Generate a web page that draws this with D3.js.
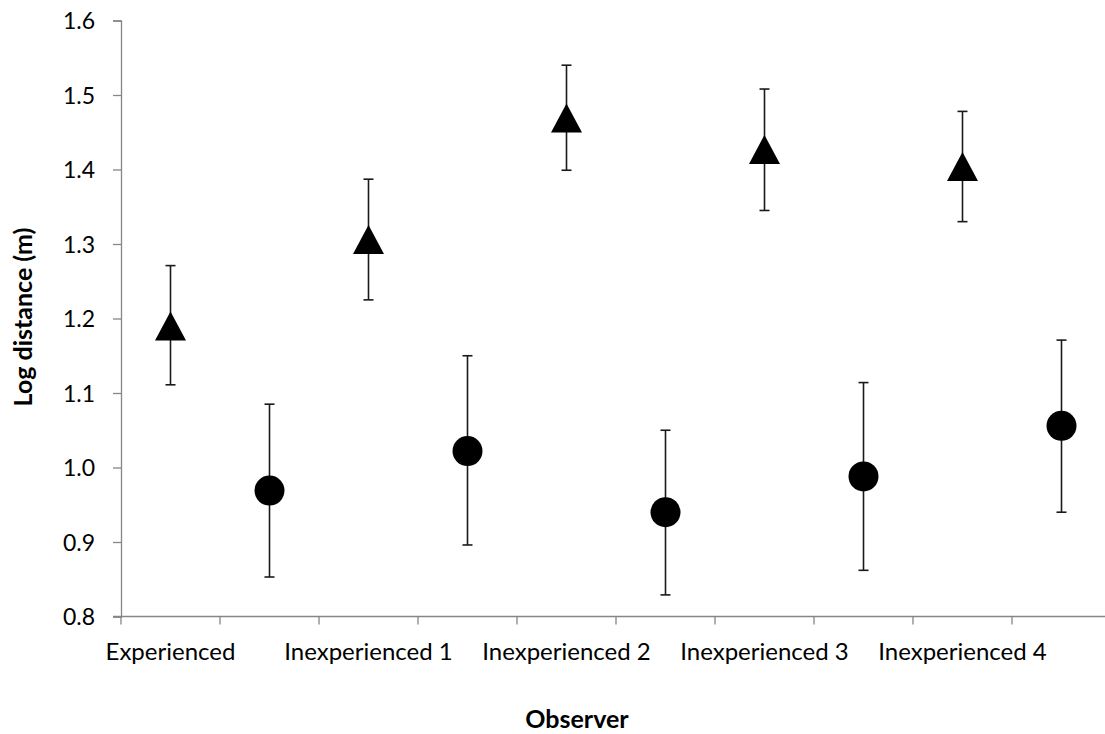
<!DOCTYPE html>
<html>
<head>
<meta charset="utf-8">
<script src="https://cdn.jsdelivr.net/npm/d3@7"></script>
<style>
  html, body { margin: 0; padding: 0; background: #fff; }
  svg { display: block; }
  text { font-family: Lato, "Open Sans", sans-serif; fill: #000; }
</style>
</head>
<body>
<svg id="chart" width="1105" height="734"></svg>
<script>
// Category slots (labels shown on every second slot, as in the original)
const categories = ["Experienced", "", "Inexperienced 1", "", "Inexperienced 2", "", "Inexperienced 3", "", "Inexperienced 4", ""];
const observers = ["Experienced", "Inexperienced 1", "Inexperienced 2", "Inexperienced 3", "Inexperienced 4"];

// Triangle series (slots 0,2,4,6,8)
const triMean  = [1.190, 1.306, 1.469, 1.427, 1.404];
const triUpper = [1.271, 1.387, 1.540, 1.508, 1.478];
const triLower = [1.111, 1.225, 1.399, 1.345, 1.330];

// Circle series (slots 1,3,5,7,9)
const cirMean  = [0.969, 1.022, 0.940, 0.988, 1.056];
const cirUpper = [1.085, 1.150, 1.050, 1.114, 1.171];
const cirLower = [0.853, 0.896, 0.829, 0.862, 0.940];

const yTicks = [0.8, 0.9, 1.0, 1.1, 1.2, 1.3, 1.4, 1.5, 1.6];

const svg = d3.select("#chart");
const mLeft = 121, mRight = 1111, mTop = 20.5, mBottom = 616.5;

const x = d3.scaleBand().domain(d3.range(categories.length)).range([mLeft, mRight]).padding(0);
const y = d3.scaleLinear().domain([0.8, 1.6]).range([mBottom, mTop]);

const axisColor = "#868686";

// Y axis
const yAxis = d3.axisLeft(y).tickValues(yTicks).tickFormat(d3.format(".1f")).tickSize(8).tickPadding(18);
const gy = svg.append("g").attr("transform", `translate(${mLeft},0)`).call(yAxis);
gy.select(".domain").attr("stroke", axisColor).attr("stroke-width", 1.3);
gy.selectAll(".tick line").attr("stroke", axisColor).attr("stroke-width", 1.3);
gy.selectAll(".tick text").attr("font-size", 23).attr("font-family", "Lato, sans-serif").attr("fill", "#000").attr("dy", "0.36em");

// X axis: ticks at slot boundaries
const boundaries = d3.range(categories.length + 1).map(i => mLeft + i * x.bandwidth());
const gx = svg.append("g");
gx.append("line").attr("x1", mLeft - 8).attr("x2", mRight).attr("y1", mBottom).attr("y2", mBottom)
  .attr("stroke", axisColor).attr("stroke-width", 1.3);
gx.selectAll("line.tick").data(boundaries).join("line").attr("class", "tick")
  .attr("x1", d => d).attr("x2", d => d).attr("y1", mBottom).attr("y2", mBottom + 8)
  .attr("stroke", axisColor).attr("stroke-width", 1.3);
gx.selectAll("text.cat").data(categories.map((c, i) => ({c, i})).filter(d => d.c !== ""))
  .join("text").attr("class", "cat")
  .attr("x", d => x(d.i) + x.bandwidth() / 2).attr("y", 660)
  .attr("text-anchor", "middle").attr("font-size", 24)
  .text(d => d.c);

// Axis titles
svg.append("text").attr("x", 577).attr("y", 728).attr("text-anchor", "middle")
  .attr("font-size", 25).attr("font-weight", "bold").text("Observer");
svg.append("text").attr("transform", "translate(32,317) rotate(-90)").attr("text-anchor", "middle")
  .attr("font-size", 25).attr("font-weight", "bold").text("Log distance (m)");

// Error bars
function errorBars(slots, upper, lower) {
  const g = svg.append("g").attr("stroke", "#1a1a1a").attr("stroke-width", 1.6).attr("fill", "none");
  slots.forEach((s, i) => {
    const cx = x(s) + x.bandwidth() / 2;
    g.append("line").attr("x1", cx).attr("x2", cx).attr("y1", y(upper[i])).attr("y2", y(lower[i]));
    g.append("line").attr("x1", cx - 5).attr("x2", cx + 5).attr("y1", y(upper[i])).attr("y2", y(upper[i]));
    g.append("line").attr("x1", cx - 5).attr("x2", cx + 5).attr("y1", y(lower[i])).attr("y2", y(lower[i]));
  });
}
const triSlots = observers.map((o, i) => 2 * i);
const cirSlots = observers.map((o, i) => 2 * i + 1);
errorBars(triSlots, triUpper, triLower);
errorBars(cirSlots, cirUpper, cirLower);

// Triangles
const tw = 31, th = 29;
svg.append("g").selectAll("path").data(triMean).join("path")
  .attr("d", (d, i) => {
    const cx = x(triSlots[i]) + x.bandwidth() / 2, cy = y(d);
    return `M${cx},${cy - th / 2}L${cx + tw / 2},${cy + th / 2}L${cx - tw / 2},${cy + th / 2}Z`;
  })
  .attr("fill", "#000");

// Circles
svg.append("g").selectAll("circle").data(cirMean).join("circle")
  .attr("cx", (d, i) => x(cirSlots[i]) + x.bandwidth() / 2)
  .attr("cy", d => y(d))
  .attr("r", 15)
  .attr("fill", "#000");
</script>
</body>
</html>
